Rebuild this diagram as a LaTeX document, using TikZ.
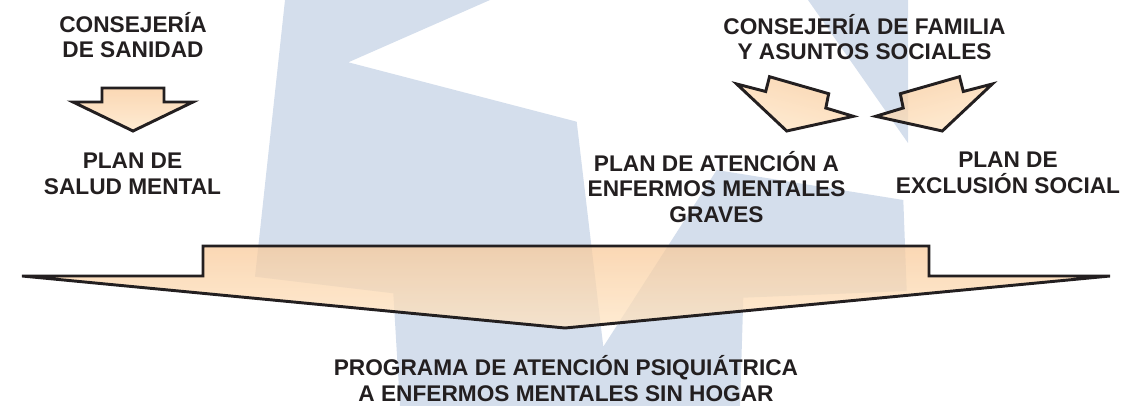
\documentclass[tikz,border=0pt]{standalone}
\usepackage{fontspec}
\setmainfont{Liberation Sans}
\definecolor{ink}{HTML}{231F20}
\definecolor{wm}{RGB}{212,222,236}
\definecolor{peachA}{RGB}{248,202,155}
\definecolor{peachB}{RGB}{255,229,196}
\begin{document}
\begin{tikzpicture}[x=0.75pt,y=-0.75pt,
  lbl/.style={font=\fontsize{17}{19.3}\selectfont\bfseries, text=ink, align=center, inner sep=0pt, anchor=base},
  arrowshape/.style={draw=ink, line width=2.2pt, line join=miter, fill opacity=0.75,
    top color=peachA, bottom color=peachB}]
\useasboundingbox (0,0) rectangle (1141,406);
% watermark
\fill[wm] (285,0) -- (490,0) -- (348.3,62.3) -- (576.7,121.7) -- (603.3,346.7)
  -- (716.7,170) -- (903.3,200) -- (906.7,291) -- (743.3,297.7) -- (740,406)
  -- (400,406) -- (393.3,293.3) -- (255,276.7) -- cycle;
\fill[wm] (808,0) -- (908,0) -- (908,143) -- cycle;
% big arrow
\path[arrowshape] (22,276) -- (203,276) -- (203,246) -- (929,246) -- (929,276)
  -- (1110,276) -- (565,328) -- cycle;
% small arrow left
\path[arrowshape] (102,88) -- (164,88) -- (164,102) -- (193,102) -- (133,131)
  -- (73,102) -- (102,102) -- cycle;
% angled arrows
\path[arrowshape, shading angle=-15] (736.7,84) -- (765.7,91.5) -- (769.5,76.7)
  -- (828.7,93.7) -- (825.8,108) -- (853.3,116.3) -- (786.7,131) -- cycle;
\path[arrowshape, shading angle=15] (992.3,84) -- (963.3,91.5) -- (959.5,76.7)
  -- (900.3,93.7) -- (903.2,108) -- (875.7,116.3) -- (942.3,131) -- cycle;
% labels (base = baseline of last line)
\node[lbl] (cs) at (133,58) {CONSEJERÍA\\DE SANIDAD};
\node[lbl] (psm) at (132.5,194) {PLAN DE\\SALUD MENTAL};
\node[lbl] (cf) at (864.5,60) {CONSEJERÍA DE FAMILIA\\Y ASUNTOS SOCIALES};
\node[lbl] (pae) at (716.5,222.5) {PLAN DE ATENCIÓN A\\ENFERMOS MENTALES\\GRAVES};
\node[lbl] (pes) at (1008,193.3) {PLAN DE\\EXCLUSIÓN SOCIAL};
\node[lbl] (prog) at (566,401.7) {PROGRAMA DE ATENCIÓN PSIQUIÁTRICA\\A ENFERMOS MENTALES SIN HOGAR};
\end{tikzpicture}
\end{document}
